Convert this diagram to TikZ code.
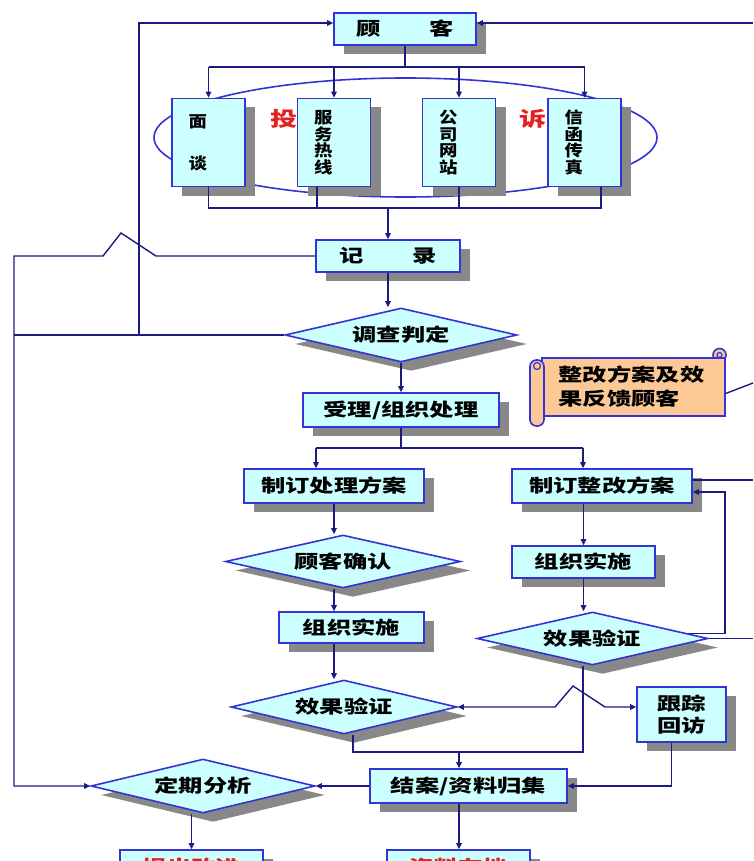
\documentclass[tikz,border=0pt]{standalone}
\usepackage{fontspec}
\usepackage{tikz}
\usetikzlibrary{shapes.geometric,shadows,arrows.meta}
\newfontfamily\cjk{Noto Sans CJK SC}[FakeStretch=1.35]
\newfontfamily\cjkv{Noto Sans CJK SC}[FakeStretch=1.15]

\definecolor{boxfill}{RGB}{204,255,255}
\definecolor{boxline}{RGB}{51,51,214}
\definecolor{wirecol}{RGB}{28,28,128}
\definecolor{shadowgray}{RGB}{136,136,136}
\definecolor{notefill}{RGB}{251,200,150}
\definecolor{hotred}{RGB}{230,30,30}

\tikzset{
  every node/.style={font=\cjk\bfseries\fontsize{18}{24}\selectfont},
  shadowed/.style={drop shadow={shadow xshift=10pt,shadow yshift=-9pt,fill=shadowgray,opacity=1}},
  proc/.style={rectangle,draw=boxline,fill=boxfill,line width=1.6pt,inner sep=0pt,shadowed},
  decide/.style={diamond,aspect=4.3,draw=boxline,fill=boxfill,line width=1.6pt,inner sep=0pt,shadowed},
  chan/.style={proc,minimum width=73pt,minimum height=88pt,text width=40pt,align=left,
    font=\cjkv\bfseries\fontsize{16}{16.5}\selectfont},
  hot/.style={text=hotred,font=\cjk\bfseries\fontsize{20}{20}\selectfont},
  wire/.style={draw=wirecol,line width=1.4pt},
  arr/.style={wire,-{Triangle[length=6pt,width=5.5pt]}},
  twoway/.style={wire,{Triangle[length=6pt,width=5.5pt]}-{Triangle[length=6pt,width=5.5pt]}},
}

\begin{document}
\begin{tikzpicture}[x=1pt,y=1pt,yscale=-1]
\useasboundingbox (0,0) rectangle (753,861);

% ring round the four channels
\draw[draw=boxline,line width=1.6pt] (405.5,137.5) ellipse [x radius=251.5, y radius=59.5];
\node[hot] (tou) at (284,119) {投};
\node[hot] (su) at (533,119) {诉};

% scroll note
\filldraw[draw=boxline,fill=notefill,line width=1.6pt] (719.5,355) circle (6.5);
\node[draw=boxline,fill=notefill,line width=1.6pt,inner sep=0pt,minimum width=183pt,minimum height=58pt,
  text width=150pt,align=left] (note) at (633.5,387) {整改方案及效\\果反馈顾客};
\filldraw[draw=boxline,fill=notefill,line width=1.6pt,rounded corners=6.5pt] (530,360) rectangle (544,426);
\draw[draw=boxline,line width=1.2pt] (537,366) circle (3.5);
\draw[draw=boxline,line width=1.2pt] (719.5,355) circle (2.5);

% Boxes
\node[proc,minimum width=142pt,minimum height=32pt] (cust) at (405,29) {顾　　客};
\node[chan] (face) at (208.5,142.5) {面\\[25.5pt]谈};
\node[chan] (hotline) at (334,142.5) {服\\务\\热\\线};
\node[chan] (web) at (459,142.5) {公\\司\\网\\站};
\node[chan] (fax) at (584.5,142.5) {信\\函\\传\\真};
\node[proc,minimum width=144pt,minimum height=32pt] (record) at (388,256) {记　　录};
\node[decide,minimum width=232pt,minimum height=54pt] (judge) at (401,335) {调查判定};
\node[proc,minimum width=196pt,minimum height=34pt] (accept) at (401,410) {受理/组织处理};
\node[proc,minimum width=180pt,minimum height=34pt] (plan1) at (334,486) {制订处理方案};
\node[proc,minimum width=180pt,minimum height=34pt] (plan2) at (602,486) {制订整改方案};
\node[decide,minimum width=235pt,minimum height=53pt] (confirm) at (343,561.5) {顾客确认};
\node[proc,minimum width=145pt,minimum height=31pt] (impl1) at (351.5,627.5) {组织实施};
\node[proc,minimum width=143pt,minimum height=32pt] (impl2) at (583.5,562) {组织实施};
\node[decide,minimum width=231pt,minimum height=53pt] (verify2) at (592.5,638.5) {效果验证};
\node[decide,minimum width=226pt,minimum height=54pt] (verify1) at (344,707) {效果验证};
\node[proc,minimum width=89pt,minimum height=55pt,align=center] (track) at (681.5,714.5) {跟踪\\[-2pt]回访};
\node[proc,minimum width=197pt,minimum height=34pt] (close) at (468.5,786) {结案/资料归集};
\node[decide,minimum width=224pt,minimum height=54pt] (periodic) at (203,786) {定期分析};
\node[proc,minimum width=143pt,minimum height=34pt,text=hotred] (out1) at (191.5,867) {提出改进};
\node[proc,minimum width=143pt,minimum height=34pt,text=hotred] (out2) at (458.5,867) {资料存档};

% bend points
\coordinate (topL) at (139,23);
\coordinate (edgeTop) at (753,23);
\coordinate (busT) at (405,67);
\coordinate (busB) at (388,208);
\coordinate (hopR) at (156,256);
\coordinate (hopT) at (121,233);
\coordinate (hopL) at (103,256);
\coordinate (railT) at (14,256);
\coordinate (busML) at (316,448);
\coordinate (busMR) at (583,448);
\coordinate (loopT) at (725,492);
\coordinate (edgeP) at (753,480);
\coordinate (edgeX) at (753,0);
\coordinate (edgeN) at (753,383);
\coordinate (hop2L) at (555,707);
\coordinate (hop2T) at (573,686);
\coordinate (hop2R) at (605,707);
\coordinate (mergeL) at (353,752);
\coordinate (mergeR) at (583,752);
\coordinate (colC) at (459,752);

% top: customer to channels
\draw[wire] (cust.south) -- (busT);
\draw[wire] (busT -| face.north) -- (busT -| fax.north);
\foreach \ch in {face,hotline,web,fax}
  \draw[arr] (busT -| \ch.north) -- (\ch.north);
\draw[wire] (face.south) |- (busB);
\draw[wire] ([xshift=16.5pt]fax.south) |- (busB);
\draw[wire] ([xshift=-17pt]hotline.south) -- ++(0,21);
\draw[wire] (web.south) -- ++(0,21);
\draw[arr] (busB) -- (record.north);

% main column
\draw[arr] (record.south) -- (record.south |- judge.north);
\draw[arr] (judge.south) -- (accept.north);
\draw[wire] (accept.south) -- (accept.south |- busML);
\draw[wire] (busML) -- (busMR);
\draw[arr] (busML) -- (busML |- plan1.north);
\draw[arr] (busMR) -- (busMR |- plan2.north);

% left branch
\draw[arr] (plan1.south) -- (plan1.south |- confirm.north);
\draw[arr] (plan1.south |- confirm.south) -- (plan1.south |- impl1.north);
\draw[arr] (plan1.south |- impl1.south) -- (plan1.south |- verify1.north);

% right branch
\draw[arr] (impl2.north |- plan2.south) -- (impl2.north);
\draw[arr] (impl2.south) -- (impl2.south |- verify2.north);
\draw[arr] (verify2.3) -- (verify2.3 -| loopT) -- (loopT) -- (plan2.east |- loopT);
\draw[wire] (verify2.east) -- (verify2.east -| edgeX);
\draw[wire] (plan2.east |- edgeP) -- (edgeP);
\draw[wire] (note.-4) -- (edgeN);

% merge into closing
\draw[wire] (verify1.south -| mergeL) -- (mergeL) -- (mergeR) -- (verify2.south -| mergeR);
\draw[twoway] (verify1.east) -- (hop2L) -- (hop2T) -- (hop2R) -- (track.west |- verify1.east);
\draw[arr] (colC) -- (colC |- close.north);
\draw[arr] ([xshift=-10pt]track.south) |- (close.east);
\draw[arr] (close.west) -- (periodic.east);
\draw[arr] (colC |- close.south) -- (colC |- out2.north);
\draw[arr] (out1.north |- periodic.south) -- (out1.north);

% feedback loops on the left
\draw[arr] (record.west) -- (hopR) -- (hopT) -- (hopL) -- (railT) |- (periodic.west);
\draw[wire] (judge.west) -- (railT |- judge.west);
\draw[arr] (judge.west -| topL) -- (topL) -- (cust.west |- topL);
\draw[arr] (edgeTop) -- (cust.east |- edgeTop);

\end{tikzpicture}
\end{document}
